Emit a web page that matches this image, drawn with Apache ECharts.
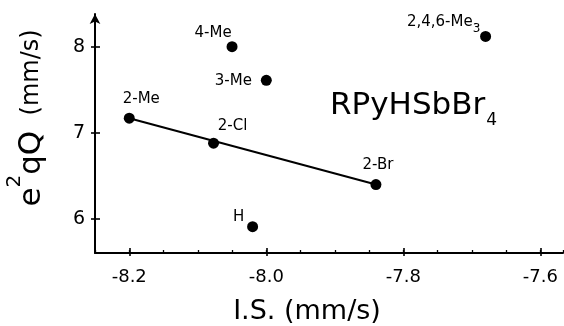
<!DOCTYPE html>
<html><head><meta charset="utf-8">
<script src="https://cdn.jsdelivr.net/npm/echarts@6/dist/echarts.min.js"></script>
<style>html,body{margin:0;padding:0;background:#fff}#c{width:564px;height:326px}</style>
</head><body><div id="c"></div>
<script>
// ---- data ----
const names = ['2-Me', '4-Me', '3-Me', '2-Cl', '2,4,6-Me3', '2-Br', 'H'];
const isValues = [-8.20, -8.05, -8.00, -8.077, -7.68, -7.84, -8.02];
const eqqValues = [7.17, 8.00, 7.61, 6.88, 8.12, 6.40, 5.91];
const fitLineX = [-8.20, -7.84];
const fitLineY = [7.17, 6.40];
const xTickLabels = [-8.2, -8.0, -7.8, -7.6];
const yTickLabels = [6, 7, 8];

// ---- styling ----
const F = 'DejaVu Sans';
const labelOffsets = {
  '2-Me': [12, -19], '4-Me': [-19, -14], '3-Me': [-33, 1], '2-Cl': [19, -17],
  '2,4,6-Me3': [-42, -12], '2-Br': [2, -19], 'H': [-14, -10]
};
const XMIN = -8.25, XMAX = -7.567, YMIN = 5.605, YMAX = 8.38;

const pts = names.map((n, i) => ({
  name: n,
  value: [isValues[i], eqqValues[i]],
  label: {
    offset: labelOffsets[n],
    formatter: n === '2,4,6-Me3' ? '{m|2,4,6-Me}{s|3}' : n
  }
}));

const chart = echarts.init(document.getElementById('c'));
const xBase = { type: 'value', min: XMIN, max: XMAX, position: 'bottom', splitLine: { show: false } };
const yBase = { type: 'value', min: YMIN, max: YMAX, position: 'left', splitLine: { show: false } };
chart.setOption({
  animation: false,
  backgroundColor: '#fff',
  grid: { left: 95, top: 14, right: 1, bottom: 73, outerBoundsMode: 'none' },
  xAxis: [
    Object.assign({}, xBase, {
      interval: 0.05,
      axisLine: { lineStyle: { color: '#000', width: 2 } },
      axisTick: { inside: true, length: 3, lineStyle: { color: '#000', width: 1.3 } },
      axisLabel: { show: false }
    }),
    Object.assign({}, xBase, {
      axisLine: { show: false },
      axisTick: { inside: true, length: 5, customValues: xTickLabels, lineStyle: { color: '#000', width: 1.6 } },
      axisLabel: { show: false }
    }),
    Object.assign({}, xBase, {
      axisLine: { show: false },
      axisTick: { inside: false, length: 3, customValues: xTickLabels, lineStyle: { color: '#000', width: 1.6 } },
      axisLabel: {
        margin: 15, color: '#000', fontFamily: F, fontSize: 18, customValues: xTickLabels,
        formatter: v => v.toFixed(1)
      }
    })
  ],
  yAxis: [
    Object.assign({}, yBase, {
      axisLine: { lineStyle: { color: '#000', width: 2 }, symbol: ['none', 'arrow'], symbolSize: [8, 10] },
      axisTick: { inside: true, length: 5, customValues: yTickLabels, lineStyle: { color: '#000', width: 1.6 } },
      axisLabel: { show: false }
    }),
    Object.assign({}, yBase, {
      axisLine: { show: false },
      axisTick: { inside: false, length: 4, customValues: yTickLabels, lineStyle: { color: '#000', width: 1.6 } },
      axisLabel: {
        margin: 10, color: '#000', fontFamily: F, fontSize: 19, customValues: yTickLabels,
        formatter: v => String(v)
      }
    })
  ],
  series: [
    {
      type: 'line', xAxisIndex: 0, yAxisIndex: 0, symbol: 'none', z: 2,
      lineStyle: { color: '#000', width: 2 },
      data: fitLineX.map((x, i) => [x, fitLineY[i]])
    },
    {
      type: 'scatter', xAxisIndex: 0, yAxisIndex: 0, symbolSize: 11, z: 3,
      itemStyle: { color: '#000', opacity: 1 },
      emphasis: { disabled: true },
      label: {
        show: true, position: 'inside', color: '#000', fontFamily: F, fontSize: 15,
        rich: {
          m: { fontFamily: F, fontSize: 15, color: '#000', verticalAlign: 'top', lineHeight: 17 },
          s: { fontFamily: F, fontSize: 12, color: '#000', verticalAlign: 'bottom', padding: [8, 0, 0, 0] }
        }
      },
      data: pts
    }
  ],
  graphic: [
    {
      type: 'text', left: 330, top: 90, z: 10,
      style: {
        text: '{a|RPyHSbBr}{s|4}', fill: '#000',
        rich: {
          a: { fontFamily: F, fontSize: 31, lineHeight: 31, verticalAlign: 'top', fill: '#000' },
          s: { fontFamily: F, fontSize: 17, verticalAlign: 'bottom', padding: [22, 0, 0, 1], fill: '#000' }
        }
      }
    },
    {
      type: 'text', x: 307, y: 312, z: 10,
      style: { text: 'I.S. (mm/s)', fontFamily: F, fontSize: 27, fill: '#000', align: 'center', verticalAlign: 'middle' }
    },
    {
      type: 'text', x: 32, y: 118, rotation: Math.PI / 2, z: 10,
      style: {
        text: '{a|e}{b|2}{a|qQ}{c|  (mm/s)}', align: 'center', verticalAlign: 'middle', fill: '#000',
        rich: {
          a: { fontFamily: F, fontSize: 31, lineHeight: 54, fill: '#000' },
          b: { fontFamily: F, fontSize: 20, lineHeight: 20, verticalAlign: 'top', fill: '#000' },
          c: { fontFamily: F, fontSize: 24, lineHeight: 54, fill: '#000' }
        }
      }
    }
  ]
});
</script>
</body></html>
